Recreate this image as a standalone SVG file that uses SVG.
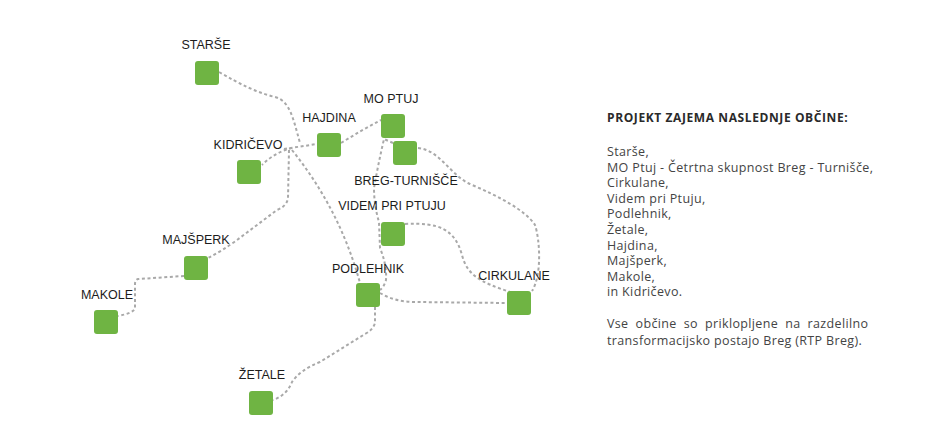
<svg xmlns="http://www.w3.org/2000/svg" width="938" height="435" viewBox="0 0 938 435">
<style>
.bg{fill:#ffffff}
.c path{fill:none;stroke:#a9a9a9;stroke-width:2;stroke-dasharray:3 2.6}
.n rect{fill:#6fb443}
.lbl{font-family:"Liberation Sans",Arial,sans-serif;font-size:12.5px;fill:#1c1c1c;text-anchor:middle}
.title{font-family:"Open Sans","Noto Sans",sans-serif;font-size:12px;font-weight:bold;letter-spacing:0.6px;fill:#2a2a2a}
.body{font-family:"Open Sans","Noto Sans",sans-serif;font-size:12.5px;letter-spacing:0.35px;fill:#444444}
</style>
<rect class="bg" x="0" y="0" width="938" height="435"/>
<g id="connectors" class="c">
<path d="M219 72 C240 84 255 92 275 97 C290 101 293 118 300 143"/>
<path d="M284 149 L317 144"/>
<path d="M292 148 Q275 152 262 165"/>
<path d="M289 150 L288 198 Q287 206 277 210 L237 240 Q222 251 208 258"/>
<path d="M184 276 L138 279 Q135 280 135 284 L135 308 Q134 313 118 316"/>
<path d="M292 150 Q340 210 360 283"/>
<path d="M341 143 Q362 130 381 120"/>
<path d="M393 143 L384 139 Q378 165 374 188 Q374 205 379 222 L380 248 Q387 265 386 280 Q384 287 380 290"/>
<path d="M418 148 C440 150 450 175 470 184 C500 197 525 210 535 225 C540 240 542 275 532 291"/>
<path d="M405 224 C440 222 455 230 462 255 C467 275 480 282 510 292"/>
<path d="M380 293 Q395 302 415 302 L507 303"/>
<path d="M375 307 L375 323 Q373 330 365 334 L320 362 Q300 370 292 382 Q287 395 273 400"/>
</g>
<g id="starse" class="n"><rect x="195" y="61" width="24" height="24" rx="3"/><text class="lbl" x="206" y="49">STARŠE</text></g>
<g id="hajdina" class="n"><rect x="317" y="133" width="24" height="24" rx="3"/><text class="lbl" x="329" y="122">HAJDINA</text></g>
<g id="moptuj" class="n"><rect x="381" y="114" width="24" height="24" rx="3"/><text class="lbl" x="391" y="103">MO PTUJ</text></g>
<g id="breg" class="n"><rect x="393" y="141" width="24" height="24" rx="3"/><text class="lbl" x="406" y="185">BREG-TURNIŠČE</text></g>
<g id="videm" class="n"><rect x="381" y="222" width="24" height="24" rx="3"/><text class="lbl" x="392" y="210">VIDEM PRI PTUJU</text></g>
<g id="podlehnik" class="n"><rect x="356" y="283" width="24" height="24" rx="3"/><text class="lbl" x="368" y="273">PODLEHNIK</text></g>
<g id="cirkulane" class="n"><rect x="507" y="291" width="24" height="24" rx="3"/><text class="lbl" x="514" y="280">CIRKULANE</text></g>
<g id="kidricevo" class="n"><rect x="237" y="160" width="24" height="24" rx="3"/><text class="lbl" x="248" y="149">KIDRIČEVO</text></g>
<g id="majsperk" class="n"><rect x="184" y="256" width="24" height="24" rx="3"/><text class="lbl" x="196" y="244">MAJŠPERK</text></g>
<g id="makole" class="n"><rect x="94" y="310" width="24" height="24" rx="3"/><text class="lbl" x="107" y="299">MAKOLE</text></g>
<g id="zetale" class="n"><rect x="249" y="391" width="24" height="24" rx="3"/><text class="lbl" x="262" y="379">ŽETALE</text></g>
<g id="info">
<text class="title" x="607" y="122">PROJEKT ZAJEMA NASLEDNJE OBČINE:</text>
<text class="body" x="607" y="156">Starše,</text>
<text class="body" x="607" y="171.6">MO Ptuj - Četrtna skupnost Breg - Turnišče,</text>
<text class="body" x="607" y="187.2">Cirkulane,</text>
<text class="body" x="607" y="202.8">Videm pri Ptuju,</text>
<text class="body" x="607" y="218.4">Podlehnik,</text>
<text class="body" x="607" y="234">Žetale,</text>
<text class="body" x="607" y="249.6">Hajdina,</text>
<text class="body" x="607" y="265.2">Majšperk,</text>
<text class="body" x="607" y="280.8">Makole,</text>
<text class="body" x="607" y="296.4">in Kidričevo.</text>
<text class="body" x="607" y="328" word-spacing="3.5">Vse občine so priklopljene na razdelilno</text>
<text class="body" x="607" y="344.5">transformacijsko postajo Breg (RTP Breg).</text>
</g>
</svg>
